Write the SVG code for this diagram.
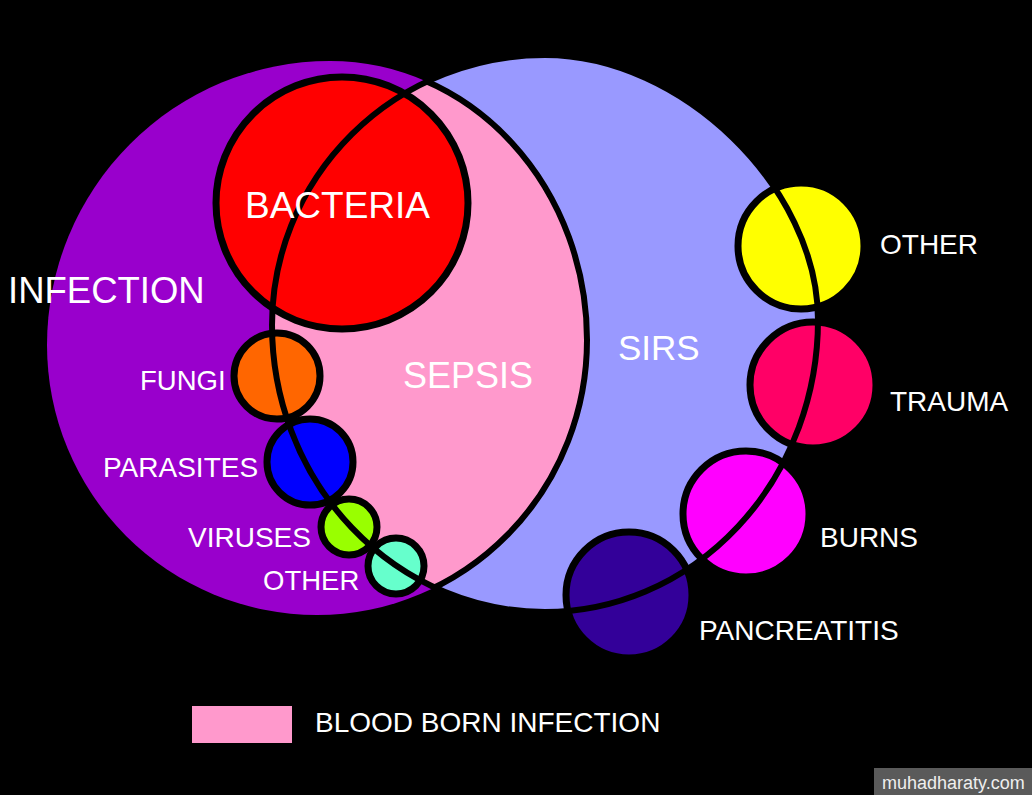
<svg xmlns="http://www.w3.org/2000/svg" width="1032" height="795" viewBox="0 0 1032 795">
<style>
text{font-family:"Liberation Sans",Arial,sans-serif;fill:#fff}
.c{stroke:#000;stroke-width:7}
.ln{fill:none;stroke:#000;stroke-width:6}
</style>
<defs>
<path id="purplePath" d="M47 345 A283 284 0 0 1 330 61 A257 279 0 0 1 587 340 A270 275 0 0 1 317 615 A270 270 0 0 1 47 345 Z"/>
<path id="sirsPath" d="M545 55 C681.5 55 818 187.5 818 320 A273 292 0 0 1 545 612 A273 287 0 0 1 272 325 A273 270 0 0 1 545 55 Z"/>
<clipPath id="clipPurple"><use href="#purplePath"/></clipPath>
<clipPath id="clipSirs"><use href="#sirsPath"/></clipPath>
</defs>
<rect width="1032" height="795" fill="#000"/>
<g id="infection">
<use href="#purplePath" fill="#9900CC"/>
<text x="8" y="303" font-size="36.5">INFECTION</text>
</g>
<g id="sirs">
<use href="#sirsPath" fill="#9999FF"/>
<text x="618" y="360" font-size="35">SIRS</text>
</g>
<g id="sepsis">
<use href="#sirsPath" fill="#FF99CC" clip-path="url(#clipPurple)"/>
<use href="#purplePath" class="ln" clip-path="url(#clipSirs)"/>
<text x="403" y="388" font-size="36">SEPSIS</text>
</g>
<g id="bacteria">
<circle cx="342" cy="203" r="126" fill="#FF0000" class="c"/>
</g>
<g id="fungi">
<circle cx="277" cy="376" r="43" fill="#FF6600" class="c"/>
<text x="140" y="390" font-size="27.5">FUNGI</text>
</g>
<g id="parasites">
<circle cx="310" cy="462" r="43" fill="#0000FF" class="c"/>
<text x="103" y="477" font-size="28">PARASITES</text>
</g>
<g id="viruses">
<circle cx="349" cy="527" r="28" fill="#99FF00" class="c"/>
<text x="188" y="547" font-size="28">VIRUSES</text>
</g>
<g id="other-infection">
<circle cx="396" cy="566" r="28" fill="#66FFCC" class="c"/>
<text x="263" y="590" font-size="27.5">OTHER</text>
</g>
<g id="other-sirs">
<circle cx="801" cy="246" r="63" fill="#FFFF00" class="c"/>
<text x="880" y="254" font-size="28">OTHER</text>
</g>
<g id="trauma">
<circle cx="813" cy="385" r="63" fill="#FF0066" class="c"/>
<text x="890" y="411" font-size="28">TRAUMA</text>
</g>
<g id="burns">
<circle cx="746" cy="514" r="63" fill="#FF00FF" class="c"/>
<text x="820" y="547" font-size="28">BURNS</text>
</g>
<g id="pancreatitis">
<circle cx="629" cy="595" r="63" fill="#330099" class="c"/>
<text x="699" y="640" font-size="28">PANCREATITIS</text>
</g>
<g id="connectors">
<use href="#sirsPath" class="ln"/>
</g>
<g id="bacteria-label">
<text x="245" y="218" font-size="37">BACTERIA</text>
</g>
<g id="legend">
<rect x="192" y="706" width="100" height="37" fill="#FF99CC"/>
<text x="315" y="732" font-size="28">BLOOD BORN INFECTION</text>
</g>
<g id="watermark">
<rect x="874" y="768" width="158" height="27" fill="#5a5a5a"/>
<text x="882" y="789" font-size="18" style="fill:#eeeeee">muhadharaty.com</text>
</g>
</svg>
